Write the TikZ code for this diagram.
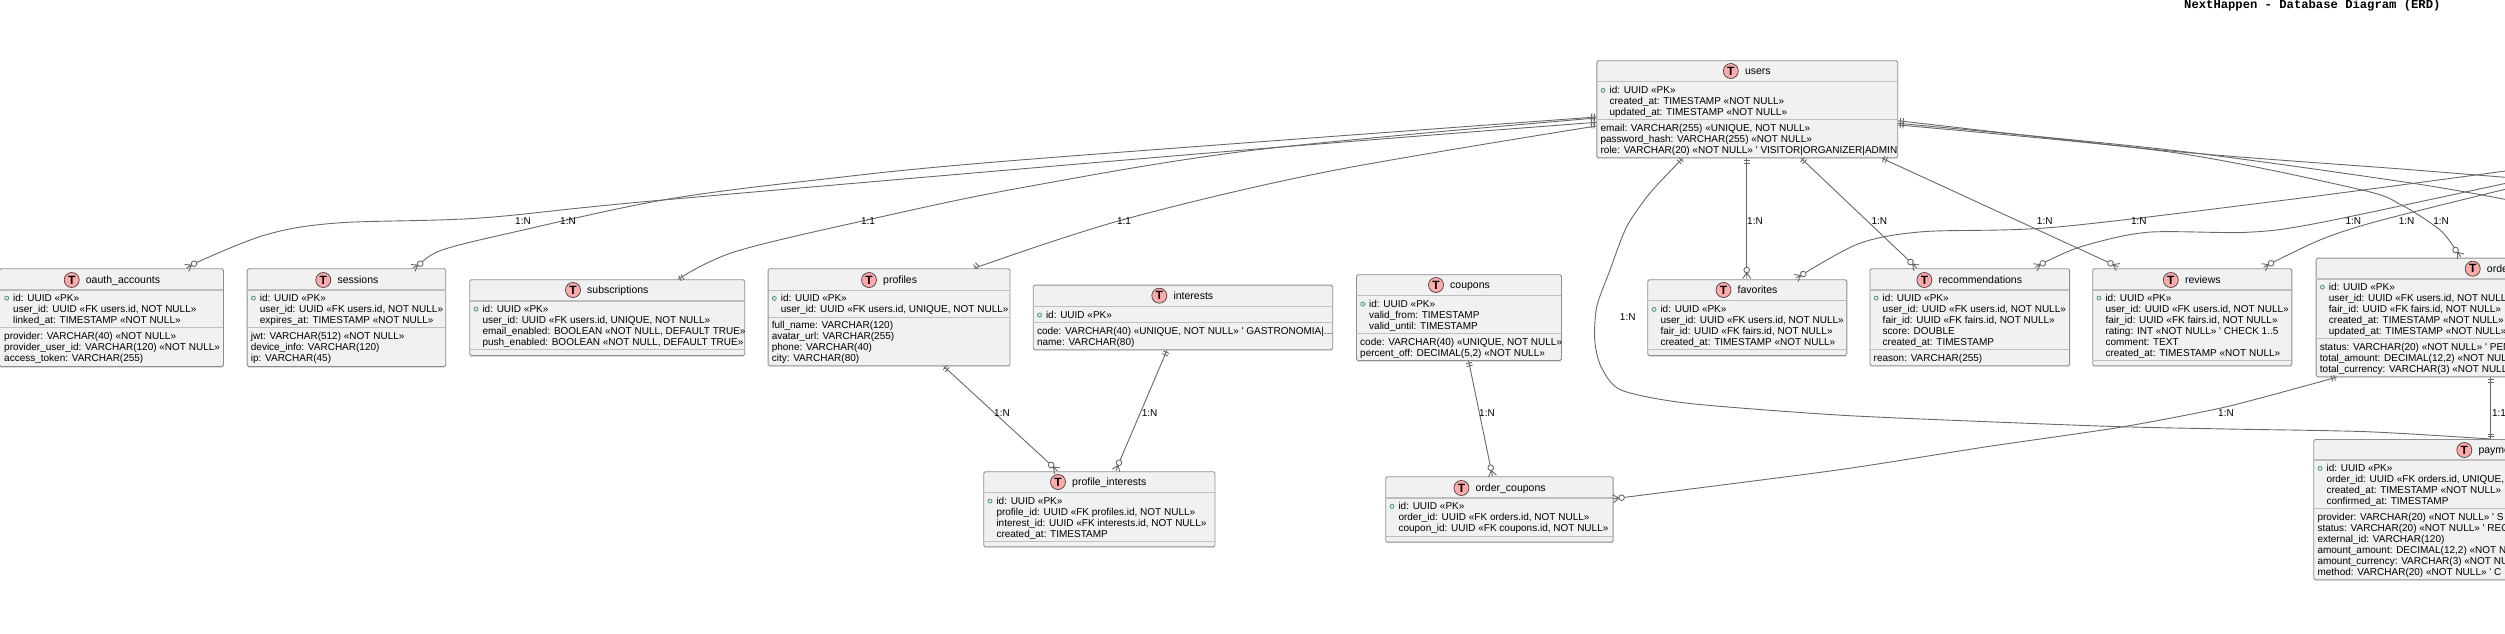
\documentclass[tikz,border=0pt]{standalone}
\usepackage{fontspec}
\usetikzlibrary{calc}
\newfontfamily\erdfont{Liberation Sans}
\newfontfamily\erdmono{Liberation Mono}
\definecolor{boxfill}{HTML}{F1F1F1}
\definecolor{boxline}{HTML}{8E8E8E}
\definecolor{boxshade}{HTML}{DEDEDE}
\definecolor{sepline}{HTML}{BEBEBE}
\definecolor{connline}{HTML}{686868}
\definecolor{iconred}{HTML}{FFAAAA}
\definecolor{pkgreen}{HTML}{4E9A6E}
\tikzset{
  tablebox/.style={draw=boxline,fill=boxfill,line width=0.9pt,rounded corners=1.5pt,inner sep=0pt,anchor=north west},
  sepstyle/.style={draw=sepline,line width=1.4pt},
  conn/.style={draw=connline,line width=0.9pt},
  rowtext/.style={font=\erdfont\fontsize{10}{11}\selectfont,text=black,inner sep=0pt,anchor=base west},
  titletext/.style={font=\erdfont\fontsize{10.5}{12}\selectfont,text=black,inner sep=0pt,anchor=base west},
  iconstyle/.style={circle,draw=black!75,fill=iconred,line width=0.7pt,minimum size=15pt,inner sep=0pt,font=\erdfont\bfseries\fontsize{12}{12}\selectfont},
  edgelabel/.style={font=\erdfont\fontsize{10}{11}\selectfont,text=black,inner sep=0pt},
}
\newcounter{rowno}
% table: name, x1, y1, x2, y2, title, icon x, title y, sep1, sep2
\newcommand\tabl[9]{%
  \def\tx{#2}%
  \draw[boxshade,line width=1pt] (#2+1,#5+1.2) -- (#4,#5+1.2);
  \node[tablebox,minimum width={(#4-#2)*1pt},minimum height={(#5-#3)*1pt}] (#1) at (#2,#3) {};
  \tablrest{#1}{#2}{#4}{#6}{#7}{#8}{#9}}
\newcommand\tablrest[7]{%
  \node[iconstyle] (#1-icon) at (#5,#6) {T};
  \node[titletext] (#1-title) at (#5+14,#6+3.6) {#4};
  \tablesep{#2}{#3}{#7}}
\newcommand\tablesep[3]{\draw[sepstyle] (#1,#3) -- (#2,#3);}
\newcommand\septwo[1]{\draw[sepstyle] (\tx,#1) -- (\txr,#1);}
\newcommand\kr[2]{\stepcounter{rowno}%
  \draw[draw=pkgreen,line width=0.8pt,fill=white!80!pkgreen] (\tx+6.7,#1+0.4) circle (2);
  \node[rowtext] (r\therowno) at (\tx+13,#1+3.5) {#2};}
\newcommand\ar[2]{\stepcounter{rowno}\node[rowtext] (r\therowno) at (\tx+13,#1+3.5) {#2};}
\newcommand\fr[2]{\stepcounter{rowno}\node[rowtext] (r\therowno) at (\tx+4,#1+3.5) {#2};}
\newcommand\zeromany[2]{\begin{scope}[shift={(#1)},rotate=#2]
  \draw[conn,fill=white] (0,0) circle (2.8);
  \draw[conn] (2.8,0)--(8.5,0) (2.8,0)--(8.5,4) (2.8,0)--(8.5,-4);
  \end{scope}}
\newcommand\oneone[2]{\begin{scope}[shift={(#1)},rotate=#2]
  \draw[conn] (2.2,-3)--(2.2,3) (5,-3)--(5,3);
  \end{scope}}
\newcommand\lab[4]{\node[edgelabel] (#1) at (#2,#3) {#4};}
\begin{document}
\begin{tikzpicture}[x=1pt,y=-1pt]
\useasboundingbox (0,0) rectangle (2505,634);
\begin{scope}
\clip (0,0) rectangle (2505,634);
\node[font=\erdmono\bfseries\fontsize{12.2}{13}\selectfont,inner sep=0pt,anchor=base west] (maintitle) at (2184,8.6) {NextHappen - Database Diagram (ERD)};

% ---- tables ----
\tabl{oauth}{-1}{268.3}{223}{366}{oauth\_accounts}{71.7}{280}{290}
\def\txr{223}\septwo{327.7}
\def\tx{0}\kr{297.7}{id: UUID «PK»}\ar{308.7}{user\_id: UUID «FK users.id, NOT NULL»}\ar{319.7}{linked\_at: TIMESTAMP «NOT NULL»}
\fr{335.7}{provider: VARCHAR(40) «NOT NULL»}\fr{346.7}{provider\_user\_id: VARCHAR(120) «NOT NULL»}\fr{357.7}{access\_token: VARCHAR(255)}

\tabl{sessions}{246.7}{268.3}{445.3}{366}{sessions}{323.3}{280}{290}
\def\txr{445.3}\septwo{327.7}
\kr{297.7}{id: UUID «PK»}\ar{308.7}{user\_id: UUID «FK users.id, NOT NULL»}\ar{319.7}{expires\_at: TIMESTAMP «NOT NULL»}
\fr{335.7}{jwt: VARCHAR(512) «NOT NULL»}\fr{346.7}{device\_info: VARCHAR(120)}\fr{357.7}{ip: VARCHAR(45)}

\tabl{subs}{469.3}{279.3}{744.3}{355}{subscriptions}{573}{290}{301}
\def\txr{744.3}\septwo{349.3}
\kr{308.7}{id: UUID «PK»}\ar{319.7}{user\_id: UUID «FK users.id, UNIQUE, NOT NULL»}\ar{330.7}{email\_enabled: BOOLEAN «NOT NULL, DEFAULT TRUE»}\ar{341.7}{push\_enabled: BOOLEAN «NOT NULL, DEFAULT TRUE»}

\tabl{profiles}{767.6}{268.3}{1009.5}{365.3}{profiles}{869}{280}{290.3}
\def\txr{1009.5}\septwo{317.3}
\kr{298}{id: UUID «PK»}\ar{309}{user\_id: UUID «FK users.id, UNIQUE, NOT NULL»}
\fr{324.7}{full\_name: VARCHAR(120)}\fr{335.7}{avatar\_url: VARCHAR(255)}\fr{346.7}{phone: VARCHAR(40)}\fr{357.7}{city: VARCHAR(80)}

\tabl{interests}{1032.8}{284.7}{1332.3}{349.3}{interests}{1159.3}{295.7}{306.3}
\def\txr{1332.3}\septwo{322.3}
\kr{314.7}{id: UUID «PK»}
\fr{330.7}{code: VARCHAR(40) «UNIQUE, NOT NULL» ' GASTRONOMIA|...}\fr{341.7}{name: VARCHAR(80)}

\tabl{pinterests}{983.3}{471.3}{1214.5}{546.3}{profile\_interests}{1058}{482}{492.3}
\def\txr{1214.5}\septwo{541.3}
\kr{500.7}{id: UUID «PK»}\ar{511.7}{profile\_id: UUID «FK profiles.id, NOT NULL»}\ar{522.7}{interest\_id: UUID «FK interests.id, NOT NULL»}\ar{533.7}{created\_at: TIMESTAMP}

\tabl{coupons}{1356}{274.3}{1561}{360}{coupons}{1436}{285}{295.7}
\def\txr{1561}\septwo{333.3}
\kr{303.7}{id: UUID «PK»}\ar{314.7}{valid\_from: TIMESTAMP}\ar{325.7}{valid\_until: TIMESTAMP}
\fr{341.7}{code: VARCHAR(40) «UNIQUE, NOT NULL»}\fr{352.7}{percent\_off: DECIMAL(5,2) «NOT NULL»}

\tabl{ocoupons}{1385.3}{476.3}{1612.6}{541.7}{order\_coupons}{1461.4}{488}{498}
\def\txr{1612.6}\septwo{536.7}
\kr{506}{id: UUID «PK»}\ar{517}{order\_id: UUID «FK orders.id, NOT NULL»}\ar{528}{coupon\_id: UUID «FK coupons.id, NOT NULL»}

\tabl{users}{1596.4}{60.3}{1897.3}{157.3}{users}{1730.8}{71}{81.7}
\def\txr{1897.3}\septwo{119.3}
\kr{90}{id: UUID «PK»}\ar{101}{created\_at: TIMESTAMP «NOT NULL»}\ar{112}{updated\_at: TIMESTAMP «NOT NULL»}
\fr{128}{email: VARCHAR(255) «UNIQUE, NOT NULL»}\fr{139}{password\_hash: VARCHAR(255) «NOT NULL»}\fr{150}{role: VARCHAR(20) «NOT NULL» ' VISITOR|ORGANIZER|ADMIN}

\tabl{favorites}{1647.3}{279.3}{1846.4}{355}{favorites}{1723.5}{290}{300.7}
\def\txr{1846.4}\septwo{349.7}
\kr{309}{id: UUID «PK»}\ar{320}{user\_id: UUID «FK users.id, NOT NULL»}\ar{331}{fair\_id: UUID «FK fairs.id, NOT NULL»}\ar{342}{created\_at: TIMESTAMP «NOT NULL»}

\tabl{recs}{1869.5}{268.3}{2069.2}{365.3}{recommendations}{1924.4}{280}{290}
\def\txr{2069.2}\septwo{349.3}
\kr{297.7}{id: UUID «PK»}\ar{308.7}{user\_id: UUID «FK users.id, NOT NULL»}\ar{319.7}{fair\_id: UUID «FK fairs.id, NOT NULL»}\ar{330.7}{score: DOUBLE}\ar{341.7}{created\_at: TIMESTAMP}
\fr{358}{reason: VARCHAR(255)}

\tabl{reviews}{2092.3}{268.3}{2291.4}{365.3}{reviews}{2170.8}{280}{290}
\def\txr{2291.4}\septwo{360.3}
\kr{297.7}{id: UUID «PK»}\ar{308.7}{user\_id: UUID «FK users.id, NOT NULL»}\ar{319.7}{fair\_id: UUID «FK fairs.id, NOT NULL»}\ar{330.7}{rating: INT «NOT NULL» ' CHECK 1..5}\ar{341.7}{comment: TEXT}\ar{352.7}{created\_at: TIMESTAMP «NOT NULL»}

\tabl{orders}{2315.7}{257.7}{2662}{376.3}{orders}{2472.7}{268.7}{279}
\def\txr{2662}\septwo{338.7}
\kr{286.7}{id: UUID «PK»}\ar{297.7}{user\_id: UUID «FK users.id, NOT NULL»}\ar{308.7}{fair\_id: UUID «FK fairs.id, NOT NULL»}\ar{319.7}{created\_at: TIMESTAMP «NOT NULL»}\ar{330.7}{updated\_at: TIMESTAMP «NOT NULL»}
\fr{346.7}{status: VARCHAR(20) «NOT NULL» ' PEN}\fr{357.7}{total\_amount: DECIMAL(12,2) «NOT NUL}\fr{368.7}{total\_currency: VARCHAR(3) «NOT NULL}

\tabl{payments}{2313.3}{439}{2673}{579.3}{payments}{2464.3}{450}{460}
\def\txr{2673}\septwo{508.3}
\kr{468}{id: UUID «PK»}\ar{479}{order\_id: UUID «FK orders.id, UNIQUE,}\ar{490}{created\_at: TIMESTAMP «NOT NULL»}\ar{501}{confirmed\_at: TIMESTAMP}
\fr{516.7}{provider: VARCHAR(20) «NOT NULL» ' S}\fr{527.7}{status: VARCHAR(20) «NOT NULL» ' REC}\fr{538.7}{external\_id: VARCHAR(120)}\fr{549.7}{amount\_amount: DECIMAL(12,2) «NOT N}\fr{560.7}{amount\_currency: VARCHAR(3) «NOT NU}\fr{571.7}{method: VARCHAR(20) «NOT NULL» ' C}

% ---- connector ends ----
\coordinate (uwSess) at ($(users.north west)+(0,56.7)$);
\coordinate (uwSubs) at ($(users.north west)+(0,57.7)$);
\coordinate (uwOauth) at ($(users.north west)+(0,62)$);
\coordinate (uwProf) at ($(users.north west)+(0,65.7)$);
\coordinate (ueA) at ($(users.north east)+(0,60.4)$);
\coordinate (ueB) at ($(users.north east)+(0,63)$);
\coordinate (ueC) at ($(users.north east)+(0,64.7)$);
\coordinate (usLoop) at ($(users.south west)+(86.3,0)$);
\coordinate (usFav) at ($(users.south west)+(150.3,0)$);
\coordinate (usRec) at ($(users.south west)+(204.6,0)$);
\coordinate (usRev) at ($(users.south west)+(285.3,0)$);
\coordinate (cOauth) at ($(oauth.north west)+(195,-4.6)$);
\coordinate (cSess) at ($(sessions.north west)+(173.6,-4.6)$);
\coordinate (nSubs) at ($(subs.north west)+(208.7,0)$);
\coordinate (nProf) at ($(profiles.north west)+(206.4,0)$);
\coordinate (sProf) at ($(profiles.south west)+(176,0)$);
\coordinate (sInt) at ($(interests.south west)+(134.2,0)$);
\coordinate (sCoup) at ($(coupons.south west)+(112.6,0)$);
\coordinate (cPiA) at ($(pinterests.north west)+(67.9,-6.3)$);
\coordinate (cPiB) at ($(pinterests.north west)+(135.7,-8.6)$);
\coordinate (cOcA) at ($(ocoupons.north west)+(105.4,-8.6)$);
\coordinate (cOcB) at ($(ocoupons.north west)+(236.3,21.4)$);
\coordinate (cFavA) at ($(favorites.north west)+(99.4,-9.3)$);
\coordinate (cFavB) at ($(favorites.north west)+(156,-5.3)$);
\coordinate (cRecA) at ($(recs.north west)+(41,-6.3)$);
\coordinate (cRecB) at ($(recs.north west)+(173.2,-5)$);
\coordinate (cRevA) at ($(reviews.north west)+(18.2,-5)$);
\coordinate (cRevB) at ($(reviews.north west)+(178.7,-5)$);
\coordinate (cOrdA) at ($(orders.north west)+(139.9,-7.7)$);
\coordinate (sOrdA) at ($(orders.south west)+(21,0)$);
\coordinate (sOrdB) at ($(orders.south west)+(175,0)$);
\coordinate (nPay) at ($(payments.north west)+(177.4,0)$);
\coordinate (offFav) at (2510,170.4);
\coordinate (offRec) at (2510,182.4);
\coordinate (offRev) at (2510,188.1);
\coordinate (offA) at (2510,177.7);
\coordinate (offB) at (2510,200.3);

% ---- connectors ----
\draw[conn] plot[smooth,tension=0.55] coordinates {(cOauth) (265,235) (337,223) (480,218) (663,200) (1224,151.7) (uwOauth)};
\draw[conn] plot[smooth,tension=0.55] coordinates {(cSess) (442,250) (510,233) (663,200) (816,180) (1020,160) (uwSess)};
\draw[conn] plot[smooth,tension=0.55] coordinates {(nSubs) (735,251.7) (867,220) (1020,188) (1255,150) (uwSubs)};
\draw[conn] plot[smooth,tension=0.55] coordinates {(nProf) (1122,220) (1327,171.7) (uwProf)};
\draw[conn] (sProf) -- (cPiA);
\draw[conn] (sInt) -- (cPiB);
\draw[conn] (sCoup) -- (cOcA);
\draw[conn] (usFav) -- (cFavA);
\draw[conn] (usRec) -- (cRecA);
\draw[conn] (usRev) -- (cRevA);
\draw[conn] plot[smooth,tension=0.45] coordinates {(usLoop) (1650,193) (1626.7,226.7) (1610,270) (1596.7,306.7) (1594.7,340) (1601,366.7) (1621,390) (1688,403.3) (1837.5,415) (1987,421.7) (2120,426.7) (2226.7,429) (2366.7,431.7) (nPay)};
\draw[conn] plot[smooth,tension=0.5] coordinates {(ueA) (2170,151) (2401.5,169) (offA)};
\draw[conn] plot[smooth,tension=0.5] coordinates {(ueB) (2170,150) (2409,182.7) (offB)};
\draw[conn] plot[smooth,tension=0.5] coordinates {(ueC) (2170,152) (2359,189.3) (2401.5,205) (2440,230) (cOrdA)};
\draw[conn] plot[smooth,tension=0.5] coordinates {(cFavB) (1859.7,243.3) (1923,231.7) (2054,227.3) (2285.8,200) (offFav)};
\draw[conn] plot[smooth,tension=0.5] coordinates {(cRecB) (2081,246.7) (2147,232.3) (2247,232.3) (2316.7,223.3) (offRec)};
\draw[conn] plot[smooth,tension=0.5] coordinates {(cRevB) (2324,238.3) (2382,220) (offRev)};
\draw[conn] plot[smooth,tension=0.4] coordinates {(cOcB) (1837.5,470) (1986.8,446.7) (2120,427.3) (2226.7,406.7) (sOrdA)};
\draw[conn] (sOrdB) -- (nPay);

% ---- end marks ----
\zeromany{cOauth}{210}\zeromany{cSess}{210}
\zeromany{cPiA}{317}\zeromany{cPiB}{250}\zeromany{cOcA}{282}\zeromany{cOcB}{187}
\zeromany{cFavA}{270}\zeromany{cFavB}{209}\zeromany{cRecA}{316}\zeromany{cRecB}{208}
\zeromany{cRevA}{333}\zeromany{cRevB}{208}\zeromany{cOrdA}{308}
\oneone{uwSess}{172}\oneone{uwSubs}{171}\oneone{uwOauth}{172}\oneone{uwProf}{168}
\oneone{ueA}{355}\oneone{ueB}{355}\oneone{ueC}{355}
\oneone{usLoop}{227}\oneone{usFav}{270}\oneone{usRec}{316}\oneone{usRev}{337}
\oneone{nSubs}{26}\oneone{nProf}{45}\oneone{sProf}{317}\oneone{sInt}{247}\oneone{sCoup}{282}
\oneone{sOrdA}{196}\oneone{sOrdB}{270}\oneone{nPay}{90}

% ---- labels ----
\lab{l1}{523}{220.7}{1:N}\lab{l2}{568}{220.7}{1:N}\lab{l3}{868}{220.7}{1:1}\lab{l4}{1124}{220.7}{1:1}
\lab{l5}{1002}{412.7}{1:N}\lab{l6}{1149.6}{412.7}{1:N}\lab{l7}{1487}{412.7}{1:N}
\lab{l8}{1627.7}{316.7}{1:N}\lab{l9}{1755}{220.7}{1:N}\lab{l10}{1879.4}{220.7}{1:N}\lab{l11}{2044.7}{220.7}{1:N}
\lab{l12}{2138.8}{220.7}{1:N}\lab{l13}{2353.3}{220.7}{1:N}\lab{l14}{2406.6}{220.7}{1:N}\lab{l15}{2441}{220.7}{1:N}
\lab{l16}{2226}{412.7}{1:N}\lab{l17}{2499}{412.7}{1:1}
\end{scope}
\end{tikzpicture}
\end{document}
